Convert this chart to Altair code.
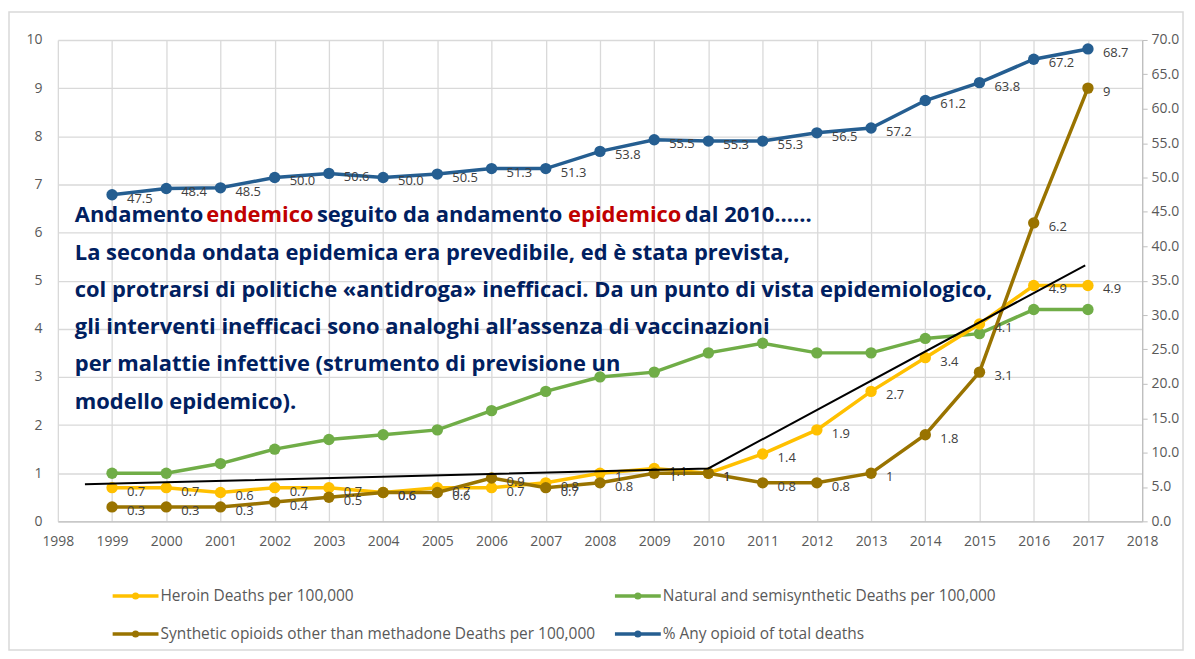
import altair as alt
import pandas as pd

# ---------------- data ----------------
years = list(range(1999, 2018))
heroin = [0.7, 0.7, 0.6, 0.7, 0.7, 0.6, 0.7, 0.7, 0.8, 1.0, 1.1, 1.0, 1.4, 1.9, 2.7, 3.4, 4.1, 4.9, 4.9]
natural = [1.0, 1.0, 1.2, 1.5, 1.7, 1.8, 1.9, 2.3, 2.7, 3.0, 3.1, 3.5, 3.7, 3.5, 3.5, 3.8, 3.9, 4.4, 4.4]
synthetic = [0.3, 0.3, 0.3, 0.4, 0.5, 0.6, 0.6, 0.9, 0.7, 0.8, 1.0, 1.0, 0.8, 0.8, 1.0, 1.8, 3.1, 6.2, 9.0]
any_opioid = [47.5, 48.4, 48.5, 50.0, 50.6, 50.0, 50.5, 51.3, 51.3, 53.8, 55.5, 55.3, 55.3, 56.5, 57.2,
              61.2, 63.8, 67.2, 68.7]

series_names = [
    "Heroin Deaths per 100,000",
    "Natural and semisynthetic Deaths per 100,000",
    "Synthetic opioids other than methadone Deaths per 100,000",
    "% Any opioid of total deaths",
]
series_colors = ["#FFC000", "#70AD47", "#997300", "#255E91"]

trend_years = [1998.5, 2010.0, 2016.95]
trend_values = [0.77, 1.1, 5.32]

x_ticks = list(range(1998, 2019))
left_ticks = list(range(0, 11))
right_ticks = list(range(0, 75, 5))

annotation_line1 = [
    ("Andamento", "#002060"),
    ("endemico", "#C00000"),
    ("seguito da andamento", "#002060"),
    ("epidemico", "#C00000"),
    ("dal 2010……", "#002060"),
]
annotation_rest = [
    "La seconda ondata epidemica era prevedibile, ed è stata prevista,",
    "col protrarsi di politiche «antidroga» inefficaci. Da un punto di vista epidemiologico,",
    "gli interventi inefficaci sono analoghi all’assenza di vaccinazioni",
    "per malattie infettive (strumento di previsione un",
    "modello epidemico).",
]

# ---------------- layout constants ----------------
W, H = 1088, 483
FONT = "Open Sans"
GRID = "#D9D9D9"
AXIS_TXT = "#595959"
LABEL_TXT = "#404040"
ANN_SIZE = 22

x_enc = alt.X("year:Q", scale=alt.Scale(domain=[1998, 2018], nice=False, zero=False),
              axis=alt.Axis(values=x_ticks, format="d", title=None, grid=True, gridColor=GRID,
                            gridWidth=1.3, domainColor="#BFBFBF", domainWidth=1.3, ticks=False,
                            labelFontSize=14, labelColor=AXIS_TXT, labelFont=FONT, labelPadding=13,
                            labelFlush=False))
yl_enc = alt.Y("value:Q", scale=alt.Scale(domain=[0, 10], nice=False),
               axis=alt.Axis(orient="left", values=left_ticks, title=None, grid=True, gridColor=GRID,
                             gridWidth=1.3, domain=False, ticks=False, labelFontSize=14,
                             labelColor=AXIS_TXT, labelFont=FONT, labelPadding=16))
yr_enc = alt.Y("value:Q", scale=alt.Scale(domain=[0, 70], nice=False),
               axis=alt.Axis(orient="right", values=right_ticks, format=".1f", title=None, grid=False,
                             domain=True, domainColor="#BFBFBF", domainWidth=1.3, ticks=True,
                             tickSize=5, tickColor="#BFBFBF", labelFontSize=14, labelColor=AXIS_TXT,
                             labelFont=FONT, labelPadding=4))


def frame_df(vals):
    return pd.DataFrame({"year": years, "value": vals})


left_layers = []

# outer frame of the chart
left_layers.append(
    alt.Chart().mark_rect(filled=False, stroke="#D9D9D9", strokeWidth=1.5).encode(
        x=alt.value(-49), x2=alt.value(1129), y=alt.value(-28), y2=alt.value(612))
)

left_series = [(natural, 1, False), (heroin, 0, True), (synthetic, 2, True)]
for vals, idx, _ in left_series:
    base = alt.Chart(frame_df(vals)).encode(x=x_enc, y=yl_enc)
    left_layers.append(base.mark_line(color=series_colors[idx], strokeWidth=3.5))
    left_layers.append(base.mark_point(color=series_colors[idx], filled=True, opacity=1, size=130))

# labels
for vals, idx, show in left_series:
    if show:
        left_layers.append(
            alt.Chart(frame_df(vals)).mark_text(align="left", baseline="middle", dx=15, dy=4,
                                                fontSize=13, font=FONT, color=LABEL_TXT)
            .encode(x=x_enc, y=yl_enc, text=alt.Text("value:Q"))
        )

# trend line
left_layers.append(
    alt.Chart(pd.DataFrame({"year": trend_years, "value": trend_values}))
    .mark_line(color="black", strokeWidth=2).encode(x=x_enc, y=yl_enc)
)

# annotation text (pixel positions relative to plot origin)
seg_x = [17, 149, 260, 512, 629]
for (txt, col), sx in zip(annotation_line1, seg_x):
    left_layers.append(
        alt.Chart().mark_text(align="left", baseline="middle", font=FONT, fontWeight="bold",
                              fontSize=ANN_SIZE, color=col)
        .encode(x=alt.value(sx), y=alt.value(176), text=alt.value(txt))
    )
for i, txt in enumerate(annotation_rest):
    left_layers.append(
        alt.Chart().mark_text(align="left", baseline="middle", font=FONT, fontWeight="bold",
                              fontSize=ANN_SIZE, color="#002060")
        .encode(x=alt.value(17), y=alt.value(214 + 37.2 * i), text=alt.value(txt))
    )

# legend (custom)
legend_pos = [(55, 558), (559, 558), (55, 596), (559, 596)]
for name, col, (lx, ly) in zip(series_names, series_colors, legend_pos):
    left_layers.append(
        alt.Chart().mark_rule(color=col, strokeWidth=3.5).encode(
            x=alt.value(lx), x2=alt.value(lx + 46), y=alt.value(ly))
    )
    left_layers.append(
        alt.Chart().mark_point(color=col, filled=True, opacity=1, size=50, shape="circle").encode(
            x=alt.value(lx + 23), y=alt.value(ly))
    )
    left_layers.append(
        alt.Chart().mark_text(align="left", baseline="middle", font=FONT, fontSize=15.5,
                              color=AXIS_TXT).encode(
            x=alt.value(lx + 48), y=alt.value(ly), text=alt.value(name))
    )

left = alt.layer(*left_layers)

# right-axis series
rbase = alt.Chart(frame_df(any_opioid)).encode(x=x_enc, y=yr_enc)
right = alt.layer(
    rbase.mark_line(color=series_colors[3], strokeWidth=3.5),
    rbase.mark_point(color=series_colors[3], filled=True, opacity=1, size=130),
    rbase.mark_text(align="left", baseline="middle", dx=15, dy=4, fontSize=13, font=FONT,
                    color=LABEL_TXT).encode(text=alt.Text("value:Q", format=".1f")),
)

chart = (
    alt.layer(left, right)
    .resolve_scale(y="independent")
    .properties(width=W, height=H, autosize=alt.AutoSizeParams(type="none"),
                padding={"left": 50, "top": 31, "right": 45, "bottom": 130},
                background="white")
    .configure_view(stroke=None)
)

chart.save("out.html", embed_options={"renderer": "svg", "actions": False})
